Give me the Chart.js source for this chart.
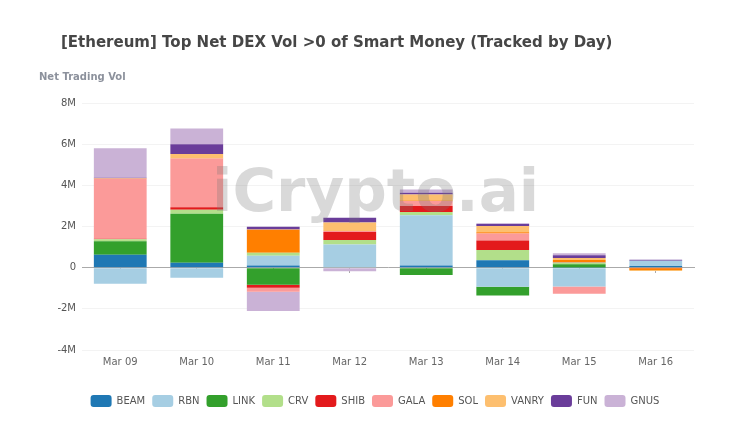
<!DOCTYPE html>
<html>
<head>
<meta charset="utf-8">
<script src="https://cdn.jsdelivr.net/npm/chart.js@4"></script>
<style>
    html, body { margin: 0; padding: 0; background: #fff; }
    #wrap { position: relative; width: 750px; height: 425px; overflow: hidden; }
    #title { position: absolute; left: 61px; top: 33px; font: bold 15px "DejaVu Sans"; color: #464646; white-space: nowrap; }
    #yname { position: absolute; left: 39px; top: 71px; font: bold 10px "DejaVu Sans"; color: #8c919c; white-space: nowrap; }
    #mark { position: absolute; left: 212px; top: 156px; font: bold 59.5px "DejaVu Sans"; color: rgba(120,120,120,0.28); white-space: nowrap; z-index: 2; }
    #chart { position: absolute; left: 0; top: 0; }
</style>
</head>
<body>
<div id="wrap">
    <canvas id="chart" width="750" height="425"></canvas>
    <div id="title">[Ethereum] Top Net DEX Vol &gt;0 of Smart Money (Tracked by Day)</div>
    <div id="yname">Net Trading Vol</div>
    <div id="mark">iCrypto.ai</div>
</div>
<script>
const days = ['Mar 09', 'Mar 10', 'Mar 11', 'Mar 12', 'Mar 13', 'Mar 14', 'Mar 15', 'Mar 16'];

// values in millions
const BEAM  = [0.63, 0.24, 0.10, 0.02, 0.10, 0.36, 0.01, 0.08];
const RBN   = [-0.78, -0.49, 0.48, 1.10, 2.45, -0.93, -0.91, 0.25];
const LINK  = [0.65, 2.38, -0.83, 0.01, -0.36, -0.42, 0.16, 0.01];
const CRV   = [0.10, 0.19, 0.14, 0.21, 0.15, 0.50, 0.08, 0];
const SHIB  = [0.02, 0.12, -0.15, 0.39, 0.29, 0.46, 0.03, 0];
const GALA  = [2.92, 2.37, -0.19, 0.05, 0.25, 0.34, -0.36, -0.01];
const SOL   = [0.01, 0.01, 1.12, 0.01, 0.02, 0.06, 0.09, -0.10];
const VANRY = [0.01, 0.21, 0.01, 0.41, 0.30, 0.30, 0.10, -0.05];
const FUN   = [0.03, 0.47, 0.14, 0.23, 0.08, 0.11, 0.13, 0.04];
const GNUS  = [1.43, 0.77, -0.94, -0.18, 0.16, 0.01, 0.10, 0.01];

const names = ['BEAM', 'RBN', 'LINK', 'CRV', 'SHIB', 'GALA', 'SOL', 'VANRY', 'FUN', 'GNUS'];
const values = [BEAM, RBN, LINK, CRV, SHIB, GALA, SOL, VANRY, FUN, GNUS];
const colors = ['#1f78b4', '#a6cee3', '#33a02c', '#b2df8a', '#e31a1c', '#fb9a99', '#ff7f00', '#fdbf6f', '#6a3d9a', '#cab2d6'];

Chart.defaults.font.family = '"DejaVu Sans"';
Chart.defaults.animation = false;

// legend is centred on the page, not on the space left of the right padding
const centerLegend = {
    id: 'centerLegend',
    afterLayout(chart) {
        chart.legend.left += 28;
        chart.legend.right += 28;
    }
};

new Chart(document.getElementById('chart').getContext('2d'), {
    type: 'bar',
    plugins: [centerLegend],
    data: {
        labels: days,
        datasets: names.map((name, i) => ({
            label: name,
            data: values[i],
            backgroundColor: colors[i],
            borderWidth: 0,
            barPercentage: 1,
            categoryPercentage: 0.69
        }))
    },
    options: {
        responsive: false,
        devicePixelRatio: 1,
        layout: { padding: { left: 0, right: 56, top: 103, bottom: 8 } },
        plugins: {
            tooltip: { enabled: false },
            legend: {
                position: 'bottom',
                labels: { boxWidth: 21, boxHeight: 12, padding: 7, color: '#555', font: { size: 10 }, useBorderRadius: true, borderRadius: 3 }
            }
        },
        scales: {
            x: {
                stacked: true,
                afterFit: s => { s.height = 38; },
                grid: { display: false, drawTicks: false },
                border: { display: false },
                ticks: { color: '#666', font: { size: 10 }, padding: 6 }
            },
            // zero line with its tick marks, sits behind the bars
            zero: {
                axis: 'x',
                type: 'category',
                labels: days,
                offset: true,
                position: { y: 0 },
                z: -1,
                ticks: { display: false },
                grid: { drawOnChartArea: false, offset: false, tickLength: 5, color: '#aaa', tickColor: '#aaa' },
                border: { color: '#aaa', width: 1 }
            },
            y: {
                stacked: true,
                min: -4,
                max: 8,
                afterFit: s => { s.width = 82; },
                ticks: { stepSize: 2, color: '#555', font: { size: 10 }, padding: 6, callback: v => v === 0 ? '0' : v + 'M' },
                grid: { color: '#f3f3f3', drawTicks: false },
                border: { display: false }
            }
        }
    }
});
</script>
</body>
</html>
